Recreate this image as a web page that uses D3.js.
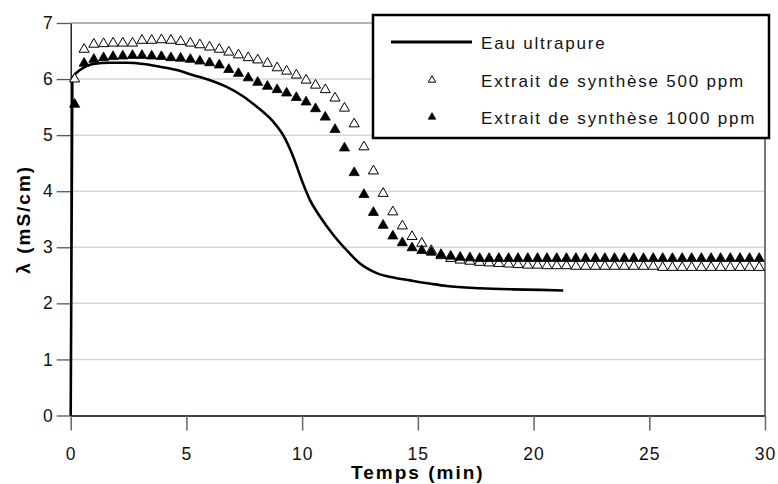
<!DOCTYPE html>
<html>
<head>
<meta charset="utf-8">
<script src="https://cdn.jsdelivr.net/npm/d3@7"></script>
<style>
  html, body { margin: 0; padding: 0; background: #fff; }
  svg { display: block; font-family: "Liberation Sans", Arial, sans-serif; }
</style>
</head>
<body>
<svg id="chart" width="778" height="484"></svg>
<script>
// Conductivity vs time: ultrapure water and two synthetic-extract concentrations
const seriesNames = ["Eau ultrapure", "Extrait de synthèse 500 ppm", "Extrait de synthèse 1000 ppm"];
const xTicks = [0, 5, 10, 15, 20, 25, 30];
const yTicks = [0, 1, 2, 3, 4, 5, 6, 7];

// Ultrapure water: continuous trace (min, mS/cm)
const waterTime = [0, 0.07, 0.12, 0.40, 0.97, 1.69, 2.42, 3.14, 3.86, 4.58, 5.30, 6.02, 6.74, 7.46, 8.03, 8.18,
  8.75, 9.18, 9.61, 9.98, 10.34, 10.77, 11.35, 11.92, 12.50, 13.22, 13.94, 14.66, 15.56, 16.24, 17.68, 19.10, 20.30, 21.28];
const waterValue = [0, 5.95, 6.05, 6.16, 6.27, 6.29, 6.29, 6.27, 6.22, 6.16, 6.07, 5.98, 5.86, 5.69, 5.51, 5.46,
  5.24, 5.00, 4.62, 4.20, 3.84, 3.55, 3.22, 2.95, 2.71, 2.54, 2.46, 2.41, 2.35, 2.31, 2.27, 2.25, 2.24, 2.23];

// Sampling times of the extract measurements (min)
const sampleTime = [0.17, 0.58, 1.00, 1.42, 1.83, 2.25, 2.67, 3.08, 3.50, 3.92, 4.33, 4.75, 5.17, 5.58, 6.00, 6.42,
  6.83, 7.25, 7.67, 8.08, 8.50, 8.92, 9.33, 9.75, 10.17, 10.58, 11.00, 11.42, 11.83, 12.25, 12.67, 13.08, 13.50,
  13.92, 14.33, 14.75, 15.17, 15.58, 16.00, 16.42, 16.83, 17.25, 17.67, 18.08, 18.50, 18.92, 19.33, 19.75, 20.17,
  20.58, 21.00, 21.42, 21.83, 22.25, 22.67, 23.08, 23.50, 23.92, 24.33, 24.75, 25.17, 25.58, 26.00, 26.42, 26.83,
  27.25, 27.67, 28.08, 28.50, 28.92, 29.33, 29.75];

const extract500 = [6.00, 6.53, 6.62, 6.63, 6.64, 6.64, 6.64, 6.69, 6.69, 6.70, 6.69, 6.67, 6.64, 6.61, 6.57, 6.53,
  6.48, 6.43, 6.38, 6.34, 6.28, 6.20, 6.14, 6.07, 5.98, 5.89, 5.81, 5.66, 5.48, 5.20, 4.79, 4.36, 3.96, 3.63, 3.38,
  3.19, 3.07, 2.94, 2.85, 2.80, 2.77, 2.75, 2.73, 2.72, 2.71, 2.70, 2.69, 2.68, 2.68, 2.67, 2.67, 2.67, 2.66, 2.66,
  2.66, 2.66, 2.66, 2.66, 2.66, 2.66, 2.66, 2.64, 2.64, 2.64, 2.64, 2.64, 2.64, 2.64, 2.64, 2.64, 2.64, 2.64];

const extract1000 = [5.55, 6.28, 6.35, 6.38, 6.40, 6.41, 6.42, 6.42, 6.41, 6.40, 6.38, 6.37, 6.35, 6.32, 6.29, 6.25,
  6.17, 6.10, 6.02, 5.94, 5.87, 5.81, 5.75, 5.67, 5.59, 5.47, 5.32, 5.10, 4.77, 4.33, 3.94, 3.62, 3.39, 3.20, 3.08,
  2.99, 2.94, 2.91, 2.87, 2.84, 2.82, 2.81, 2.80, 2.80, 2.80, 2.80, 2.80, 2.80, 2.80, 2.80, 2.80, 2.80, 2.80, 2.80,
  2.80, 2.80, 2.80, 2.80, 2.80, 2.80, 2.80, 2.80, 2.80, 2.80, 2.80, 2.80, 2.80, 2.80, 2.80, 2.80, 2.80, 2.80];

const svg = d3.select("#chart");
const x = d3.scaleLinear().domain([0, 30]).range([70.7, 765]);
const y = d3.scaleLinear().domain([0, 7]).range([415.5, 23]);

// Horizontal gridlines
svg.append("g")
  .selectAll("line")
  .data(yTicks.filter(v => v > 0 && v < 7))
  .join("line")
  .attr("x1", x(0)).attr("x2", x(30))
  .attr("y1", d => y(d)).attr("y2", d => y(d))
  .attr("stroke", "#d6d6d6").attr("stroke-width", 1.5);

// Plot frame (top and right)
svg.append("line").attr("x1", x(0)).attr("x2", x(30)).attr("y1", y(7)).attr("y2", y(7))
  .attr("stroke", "#666").attr("stroke-width", 1.2);
svg.append("line").attr("x1", x(30)).attr("x2", x(30)).attr("y1", y(7)).attr("y2", y(0))
  .attr("stroke", "#777").attr("stroke-width", 2);

// Axes
const xAxis = svg.append("g")
  .attr("transform", `translate(0,${y(0)})`)
  .call(d3.axisBottom(x).tickValues(xTicks).tickFormat(d3.format("d"))
    .tickSize(15).tickSizeOuter(0).tickPadding(17));
xAxis.select(".domain").attr("stroke", "#000").attr("stroke-width", 1.3);
xAxis.selectAll(".tick line").attr("stroke", "#666").attr("stroke-width", 1.5);
xAxis.selectAll(".tick text").attr("font-size", 17.5).attr("fill", "#111")
  .attr("font-family", "Liberation Sans, Arial, sans-serif").style("letter-spacing", "1px");

const yAxis = svg.append("g")
  .attr("transform", `translate(${x(0)},0)`)
  .call(d3.axisLeft(y).tickValues(yTicks).tickFormat(d3.format("d"))
    .tickSize(14).tickSizeOuter(0).tickPadding(4));
yAxis.select(".domain").attr("stroke", "#000").attr("stroke-width", 1.3);
yAxis.selectAll(".tick line").attr("stroke", "#555").attr("stroke-width", 1.3);
yAxis.selectAll(".tick text").attr("font-size", 17.5).attr("fill", "#111")
  .attr("font-family", "Liberation Sans, Arial, sans-serif");

// Ultrapure water curve
const waterData = waterTime.map((t, i) => [t, waterValue[i]]);
svg.append("path")
  .datum(waterData)
  .attr("fill", "none")
  .attr("stroke", "#000")
  .attr("stroke-width", 2.6)
  .attr("stroke-linejoin", "round")
  .attr("d", d3.line().x(d => x(d[0])).y(d => y(d[1])).curve(d3.curveMonotoneX));

const tri = d3.symbol().type(d3.symbolTriangle).size(44);

// 500 ppm: open triangles
svg.append("g")
  .selectAll("path")
  .data(sampleTime.map((t, i) => [t, extract500[i]]))
  .join("path")
  .attr("transform", d => `translate(${x(d[0])},${y(d[1])})`)
  .attr("d", tri())
  .attr("fill", "#fff").attr("stroke", "#000").attr("stroke-width", 1);

// 1000 ppm: filled triangles
svg.append("g")
  .selectAll("path")
  .data(sampleTime.map((t, i) => [t, extract1000[i]]))
  .join("path")
  .attr("transform", d => `translate(${x(d[0])},${y(d[1])})`)
  .attr("d", tri())
  .attr("fill", "#000").attr("stroke", "#000").attr("stroke-width", 0.8);

// Axis titles
svg.append("text")
  .attr("x", (x(0) + x(30)) / 2).attr("y", 479)
  .attr("text-anchor", "middle")
  .attr("font-size", 19).attr("font-weight", "bold")
  .style("letter-spacing", "2px")
  .text("Temps (min)");

svg.append("text")
  .attr("transform", `translate(30,${(y(0) + y(7)) / 2}) rotate(-90)`)
  .attr("text-anchor", "middle")
  .attr("font-size", 19).attr("font-weight", "bold")
  .style("letter-spacing", "2px")
  .text("λ (mS/cm)");

// Legend
const legend = svg.append("g");
legend.append("rect")
  .attr("x", 373).attr("y", 15).attr("width", 396).attr("height", 123)
  .attr("fill", "#fff").attr("stroke", "#000").attr("stroke-width", 2.5);

const rowY = [42, 80, 117];
legend.append("line").attr("x1", 391).attr("x2", 472).attr("y1", rowY[0]).attr("y2", rowY[0])
  .attr("stroke", "#000").attr("stroke-width", 3);
legend.append("path").attr("transform", `translate(432,${rowY[1]})`)
  .attr("d", d3.symbol().type(d3.symbolTriangle).size(24)())
  .attr("fill", "#fff").attr("stroke", "#000").attr("stroke-width", 1);
legend.append("path").attr("transform", `translate(432,${rowY[2]})`)
  .attr("d", d3.symbol().type(d3.symbolTriangle).size(24)())
  .attr("fill", "#000").attr("stroke", "#000").attr("stroke-width", 0.8);

legend.selectAll("text.label")
  .data(seriesNames)
  .join("text")
  .attr("class", "label")
  .attr("x", 481)
  .attr("y", (d, i) => rowY[i] + 6.5)
  .attr("font-size", 17).attr("fill", "#111")
  .style("letter-spacing", "1.8px")
  .text(d => d);
</script>
</body>
</html>
